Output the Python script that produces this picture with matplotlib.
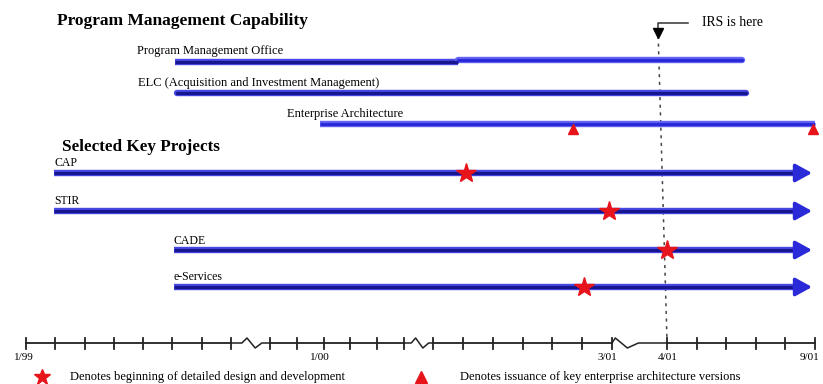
import matplotlib.pyplot as plt
import numpy as np
from matplotlib.lines import Line2D

plt.rcParams['font.family'] = ['Liberation Serif', 'DejaVu Serif']

# ---------- time axis: month 0 = Jan 1999, broken in three places -----------
AXIS_MONTHS = [-2, 0, 7, 10, 15, 20, 26, 27, 32, 34]
AXIS_POS = [-32.6, 26, 231, 270, 404, 433, 612, 667, 815, 874.2]
SEGMENTS = [(0, 7), (10, 15), (20, 26), (27, 32)]
GAPS = [(7, 10), (15, 20), (26, 27)]
tick_label_months = [0, 12, 26, 27, 32]
tick_labels = ["1/99", "1/00", "3/01", "4/01", "9/01"]

# ---------- program management capability ---------------------------------
capability_names = ["Program Management Office",
                    "ELC (Acquisition and Investment Management)",
                    "Enterprise Architecture"]
capability_start = [5.1, 5.16, 11.87]
capability_end = [29.53, 29.67, 32.0]
pmo_split = 20.84
ea_releases = [24.69, 31.93]

# ---------- selected key projects ------------------------------------------
project_names = ["CAP", "STIR", "CADE", "e-Services"]
project_start = [0.96, 0.96, 5.05, 5.05]
project_design = [21.1, 25.9, 27.0, 25.06]
project_end = 31.9

irs_top, irs_bottom = 26.84, 27.0

# layout (rows in pixel units, top = 0)
CAP_ROWS = [61, 93, 124]
CAP_LABEL_X = [3.79, 3.82, 10.63]
PROJ_ROWS = [173, 211, 250, 287]
AXIS_Y = 343
TICK_LABEL_SHIFT = [-2, -4, -5, 1, -5]

NAVY = "#16168e"
NAVY_EDGE = "#4848e4"
BLUE = "#2a2ad8"
BLUE_EDGE = "#6464f2"
RED = "#e8141c"
AXIS_COLOR = "#222222"


def fwd(m):
    return np.interp(m, AXIS_MONTHS, AXIS_POS)


def inv(p):
    return np.interp(p, AXIS_POS, AXIS_MONTHS)


def bar(ax, x0, x1, y, core, edge, cap="butt"):
    ax.plot([x0, x1], [y, y], color=edge, lw=4.6, solid_capstyle=cap, zorder=2)
    ax.plot([x0, x1], [y, y], color=core, lw=2.3, solid_capstyle=cap, zorder=3)


fig = plt.figure(figsize=(8.23, 3.84), dpi=100)
ax = fig.add_axes([0, 0, 1, 1])
ax.set_xscale("function", functions=(fwd, inv))
ax.set_xlim(inv(0), inv(823))
ax.set_ylim(384, 0)
ax.axis("off")

# section titles
ax.text(inv(57), 21, "Program Management Capability", fontsize=12.5,
        fontweight="bold", va="center")
ax.text(inv(62), 147, "Selected Key Projects", fontsize=12.3,
        fontweight="bold", va="center")

# capability bars
for i, name in enumerate(capability_names):
    y = CAP_ROWS[i]
    ax.text(CAP_LABEL_X[i], y - 10, name, fontsize=9, va="center")
    if i == 0:
        bar(ax, capability_start[i], pmo_split, y + 1, NAVY, NAVY_EDGE)
        bar(ax, pmo_split, capability_end[i], y - 1.5, BLUE, BLUE_EDGE, "round")
    elif i == 1:
        bar(ax, capability_start[i], capability_end[i], y, NAVY, NAVY_EDGE, "round")
    else:
        bar(ax, capability_start[i], capability_end[i], y, BLUE, BLUE_EDGE)
ax.plot(ea_releases, [CAP_ROWS[2] + 5] * len(ea_releases), ls="none",
        marker="^", ms=7.5, color=RED, zorder=4)

# project arrows with design-start stars
for i, name in enumerate(project_names):
    y = PROJ_ROWS[i]
    ax.text(project_start[i], y - 9.5, name, fontsize=8.5, va="center")
    bar(ax, project_start[i], project_end - 0.3, y, NAVY, NAVY_EDGE)
    ax.annotate("", xy=(project_end, y), xytext=(project_end - 0.6, y),
                arrowprops=dict(arrowstyle="-|>,head_length=1.0,head_width=0.55",
                                color=BLUE, lw=2.5, shrinkA=0, shrinkB=0),
                zorder=4)
    ax.plot(project_design[i], y, marker="*", ms=15, color=RED, zorder=5)

# time axis with broken segments
for m0, m1 in SEGMENTS:
    ax.plot([m0, m1], [AXIS_Y, AXIS_Y], color=AXIS_COLOR, lw=1.3, zorder=2)
    for m in range(m0, m1 + 1):
        ax.plot([m, m], [AXIS_Y - 5.5, AXIS_Y + 5.5], color=AXIS_COLOR,
                lw=1.3, zorder=2)
squiggles = [
    ([0, .28, .41, .62, .79, 1], [0, 0, -5, 5, 0, 0]),
    ([0, .25, .4, .65, .85, 1], [0, 0, -5, 5, 0, 0]),
    ([0, .06, .28, .48, 1], [0, -5, 5, 0, 0]),
]
for (m0, m1), (ts, dys) in zip(GAPS, squiggles):
    xs = [m0 + t * (m1 - m0) for t in ts]
    ax.plot(xs, [AXIS_Y + d for d in dys], color=AXIS_COLOR, lw=1.1, zorder=2)
for m, lab, dx in zip(tick_label_months, tick_labels, TICK_LABEL_SHIFT):
    ax.annotate(lab, (m, 357), xytext=(dx, 0), textcoords="offset pixels",
                fontsize=8, ha="center", va="center")

# "IRS is here" marker
ax.plot([irs_top, irs_bottom], [36, AXIS_Y - 3], color="#444444", lw=1.1,
        ls=(0, (2, 3)), zorder=1)
ax.plot(irs_top, 33, marker="v", ms=7, color="black", zorder=5)
ax.plot([irs_top, irs_top, inv(688)], [31, 23, 23], color="#333333", lw=1.1)
ax.text(inv(702), 22, "IRS is here", fontsize=9.8, va="center")

# legend along the bottom
fig.add_artist(Line2D([42 / 823], [1 - 377 / 384], marker="*", ms=12,
                      color=RED, transform=fig.transFigure))
fig.text(70 / 823, 1 - 377 / 384, "Denotes beginning of detailed design and development",
         fontsize=9, va="center")
fig.add_artist(Line2D([421 / 823], [1 - 377 / 384], marker="^", ms=8,
                      color=RED, transform=fig.transFigure))
fig.text(460 / 823, 1 - 377 / 384, "Denotes issuance of key enterprise architecture versions",
         fontsize=9, va="center")

fig.savefig("out.png", dpi=100)
